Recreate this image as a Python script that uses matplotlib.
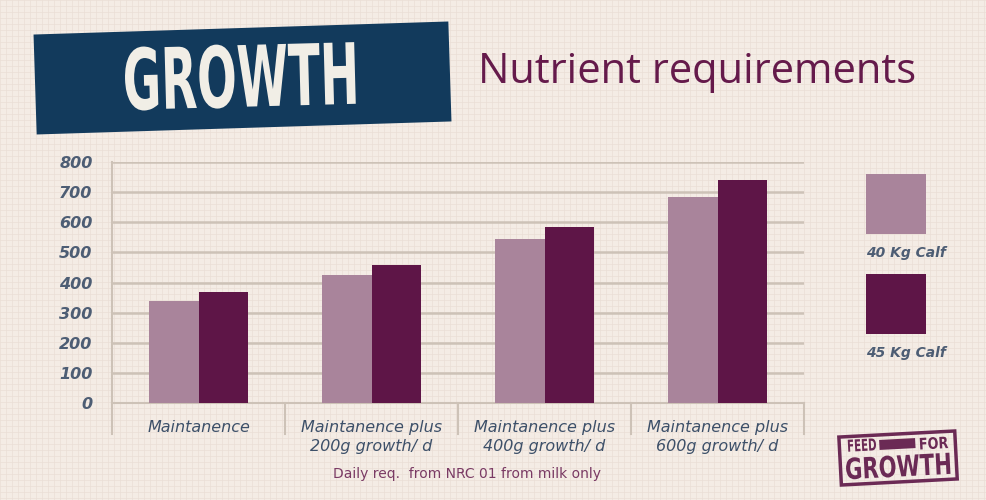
import matplotlib
matplotlib.use("Agg")
import matplotlib.pyplot as plt
import numpy as np
from matplotlib.patches import Rectangle, PathPatch
from matplotlib.textpath import TextPath
from matplotlib.font_manager import FontProperties
import matplotlib.transforms as mtransforms

categories = ["Maintanence",
              "Maintanence plus\n200g growth/ d",
              "Maintanence plus\n400g growth/ d",
              "Maintanence plus\n600g growth/ d"]
calf40 = [340, 425, 545, 685]
calf45 = [370, 458, 585, 740]
series_labels = ["40 Kg Calf", "45 Kg Calf"]
yticks = [0, 100, 200, 300, 400, 500, 600, 700, 800]

light = "#a9849b"
dark = "#5e1547"
bg = "#f4ece5"
tickcol = "#4d5d74"
gridcol = "#cdc2b7"

W, H = 986, 500
fig = plt.figure(figsize=(W / 100, H / 100), dpi=100, facecolor=bg)

# textured background
bgax = fig.add_axes([0, 0, 1, 1], zorder=-10)
bgax.set_facecolor(bg)
bgax.set_xlim(0, W)
bgax.set_ylim(H, 0)
for v in np.arange(0, W, 6):
    bgax.axvline(v, color="#eadfd6", lw=0.5, zorder=0)
for v in np.arange(0, H, 6):
    bgax.axhline(v, color="#eadfd6", lw=0.5, zorder=0)
bgax.axis("off")


def fitted_text(s, x0, y0, w, h, color, weight="bold", family="DejaVu Sans", rot=0, z=4):
    """Draw text stretched to fill box (x0,y0) top-left, w x h in pixel coords."""
    tp = TextPath((0, 0), s, size=100, prop=FontProperties(family=family, weight=weight))
    bb = tp.get_extents()
    tr = (mtransforms.Affine2D()
          .translate(-bb.x0, -bb.y0)
          .scale(w / bb.width, -h / bb.height)
          .translate(x0, y0 + h)
          .rotate_deg_around(x0 + w / 2, y0 + h / 2, rot))
    path = tr.transform_path(tp)
    bgax.add_patch(PathPatch(path, facecolor=color, edgecolor="none", zorder=z))


# title box (slightly rotated)
rot = mtransforms.Affine2D().rotate_deg_around(242, 78, -1.8) + bgax.transData
bgax.add_patch(Rectangle((35, 28), 415, 100, facecolor="#123a5c", edgecolor="none",
                         transform=rot, zorder=2))
fitted_text("GROWTH", 125, 44, 230, 64, "#f1eee6", rot=-1.5)
bgax.text(478, 72, "Nutrient requirements", color="#651a4b", fontsize=30,
          family="Open Sans", ha="left", va="center", zorder=3)

# main axes
left, right, top, bottom = 112, 804, 162, 403
ax = fig.add_axes([left / W, 1 - bottom / H, (right - left) / W, (bottom - top) / H])
ax.set_facecolor("none")
x = np.arange(len(categories))
bw = 0.285
ax.bar(x - bw / 2, calf40, bw, color=light, zorder=3, label=series_labels[0])
ax.bar(x + bw / 2, calf45, bw, color=dark, zorder=3, label=series_labels[1])
ax.set_xlim(-0.5, len(categories) - 0.5)
ax.set_ylim(0, 800)
ax.set_yticks(yticks)
ax.set_yticklabels([str(t) for t in yticks], fontsize=11.5, fontstyle="italic",
                   fontweight="bold", color=tickcol)
ax.tick_params(axis="y", length=0, pad=14)
ax.tick_params(axis="x", length=0, pad=12)
ax.set_xticks(x)
ax.set_xticklabels(categories, fontsize=11.5, fontstyle="italic", color="#3d5069",
                   linespacing=1.4, va="top")
ax.yaxis.grid(True, color=gridcol, lw=1.8, zorder=0)
for s in ["top", "right", "left"]:
    ax.spines[s].set_visible(False)
ax.spines["bottom"].set_color(gridcol)
ax.spines["bottom"].set_linewidth(1.5)
trans = mtransforms.blended_transform_factory(ax.transData, ax.transAxes)
for b in np.arange(-0.5, len(categories), 1.0):
    top_y = 1.0 if b == -0.5 else 0.0
    ax.plot([b, b], [top_y, -0.13], color=gridcol, lw=1.5, transform=trans,
            clip_on=False, zorder=1)

# legend
for i, (c, lab) in enumerate(zip([light, dark], series_labels)):
    y0 = 174 + i * 100
    bgax.add_patch(Rectangle((866, y0), 60, 60, facecolor=c, edgecolor="none", zorder=3))
    bgax.text(866, y0 + 79, lab, fontsize=10, fontstyle="italic", fontweight="bold",
              color=tickcol, ha="left", va="center", zorder=3)

# footnote
bgax.text(467, 474, "Daily req.  from NRC 01 from milk only", fontsize=10,
          color="#7a3a64", ha="center", va="center", zorder=3)

# logo stamp
rot2 = mtransforms.Affine2D().rotate_deg_around(898, 457, -3) + bgax.transData
bgax.add_patch(Rectangle((840, 434), 116, 48, facecolor="none", edgecolor="#6b2a55",
                         lw=2.5, transform=rot2, zorder=3))
fitted_text("FEED", 848, 439, 28, 12, "#6b2a55", rot=-3)
fitted_text("FOR", 920, 437, 28, 12, "#6b2a55", rot=-3)
bgax.add_patch(Rectangle((880, 439), 36, 10, facecolor="#6b2a55", edgecolor="none",
                         transform=rot2, zorder=3))
fitted_text("GROWTH", 846, 455, 104, 22, "#6b2a55", rot=-3)

fig.savefig("out.png", dpi=100, facecolor=bg)
